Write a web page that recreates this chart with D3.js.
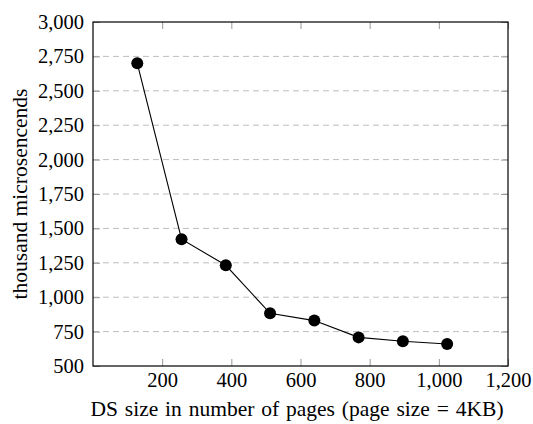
<!DOCTYPE html>
<html>
<head>
<meta charset="utf-8">
<script src="https://cdn.jsdelivr.net/npm/d3@7"></script>
<style>
    body { margin: 0; background: #fff; }
</style>
</head>
<body>
<svg id="chart" width="533" height="424"></svg>
<script>
// pages vs. time (thousand microseconds)
var pages = [128, 256, 384, 512, 640, 768, 896, 1024];
var times = [2700, 1422, 1232, 883, 830, 708, 680, 660];
var xTicks = [200, 400, 600, 800, 1000, 1200];
var yTicks = [500, 750, 1000, 1250, 1500, 1750, 2000, 2250, 2500, 2750, 3000];

var FONT = "'Liberation Serif', 'Times New Roman', Times, serif";
var TICK_SIZE = 20.5;
var LABEL_SIZE = 21.5;

var svg = d3.select('#chart');
var margin = {left: 93, right: 25, top: 22, bottom: 58};
var width = 533 - margin.left - margin.right;
var height = 424 - margin.top - margin.bottom;

var x = d3.scaleLinear().domain([0, 1200]).range([0, width]);
var y = d3.scaleLinear().domain([500, 3000]).range([height, 0]);
var fmt = d3.format(',');

var g = svg.append('g')
    .attr('transform', 'translate(' + margin.left + ',' + margin.top + ')');

// dashed grid
g.selectAll('.grid')
    .data(yTicks.slice(1, -1))
    .enter()
    .append('line')
    .attr('x1', 0)
    .attr('x2', width)
    .attr('y1', function (d) { return y(d); })
    .attr('y2', function (d) { return y(d); })
    .style('stroke', '#bdbdbd')
    .style('stroke-width', 1)
    .style('stroke-dasharray', '6,4');

// inward ticks on all four sides
var tickLen = 7;
var drawAxis = function (axis, tr) {
    var a = g.append('g').attr('transform', tr).call(axis);
    a.attr('font-family', FONT).attr('font-size', TICK_SIZE);
    a.select('.domain').remove();
    a.selectAll('line').style('stroke', '#999').style('stroke-width', 1);
    return a;
};

var bottom = drawAxis(d3.axisBottom(x).tickValues(xTicks).tickSize(-tickLen).tickFormat(fmt),
    'translate(0,' + height + ')');
bottom.selectAll('text')
    .attr('y', 21)
    .attr('dy', 0);

drawAxis(d3.axisTop(x).tickValues(xTicks).tickSize(-tickLen).tickFormat(''), 'translate(0,0)');

var left = drawAxis(d3.axisLeft(y).tickValues(yTicks).tickSize(-tickLen).tickFormat(fmt), 'translate(0,0)');
left.selectAll('text')
    .attr('x', -9);

drawAxis(d3.axisRight(y).tickValues(yTicks).tickSize(-tickLen).tickFormat(''),
    'translate(' + width + ',0)');

// frame
g.append('rect')
    .attr('width', width)
    .attr('height', height)
    .style('fill', 'none')
    .style('stroke', '#000')
    .style('stroke-width', 1.2);

// data line + markers
var line = d3.line()
    .x(function (d, i) { return x(pages[i]); })
    .y(function (d) { return y(d); });

g.append('path')
    .datum(times)
    .attr('d', line)
    .style('fill', 'none')
    .style('stroke', '#000')
    .style('stroke-width', 1.1);

g.selectAll('.pt')
    .data(times)
    .enter()
    .append('circle')
    .attr('cx', function (d, i) { return x(pages[i]); })
    .attr('cy', function (d) { return y(d); })
    .attr('r', 6)
    .style('fill', '#000');

// axis labels
svg.append('text')
    .attr('x', 297)
    .attr('y', 416)
    .attr('text-anchor', 'middle')
    .attr('font-family', FONT)
    .attr('font-size', LABEL_SIZE)
    .attr('word-spacing', 1.5)
    .text('DS size in number of pages (page size = 4KB)');

svg.append('text')
    .attr('transform', 'translate(27,' + (margin.top + height / 2) + ') rotate(-90)')
    .attr('text-anchor', 'middle')
    .attr('font-family', FONT)
    .attr('font-size', LABEL_SIZE)
    .text('thousand microsencends');
</script>
</body>
</html>
